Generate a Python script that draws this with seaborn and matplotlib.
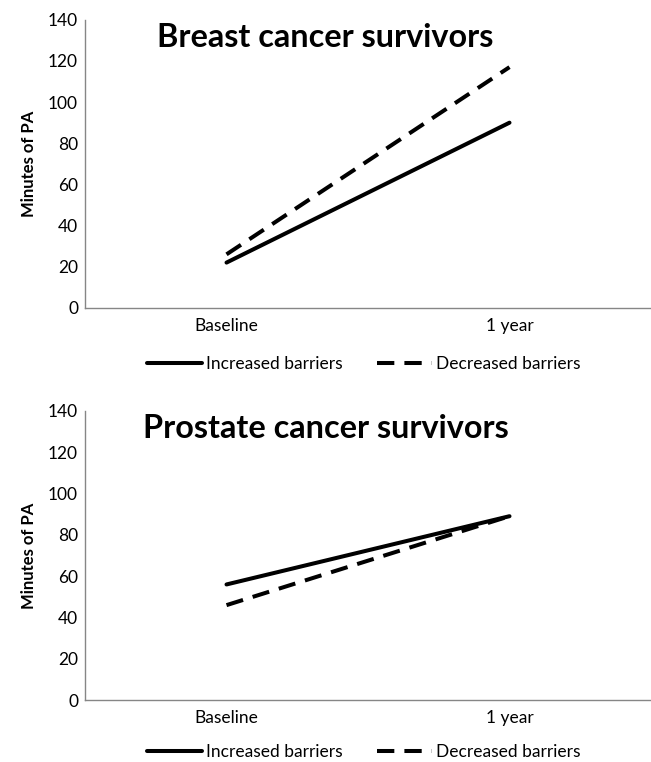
import matplotlib
matplotlib.use("Agg")
import matplotlib.pyplot as plt
import seaborn as sns
import pandas as pd

# values
timepoints = ["Baseline", "1 year"]
series_names = ["Increased barriers", "Decreased barriers"]
breast_increased = [22, 90]
breast_decreased = [26, 117]
prostate_increased = [56, 89]
prostate_decreased = [46, 89]
y_ticks = [0, 20, 40, 60, 80, 100, 120, 140]

sns.set_theme(style="white")
plt.rcParams["font.family"] = ["Lato", "DejaVu Sans"]
plt.rcParams["text.color"] = "black"


def make_frame(inc, dec):
    rows = []
    for name, vals in zip(series_names, [inc, dec]):
        for t, v in zip(timepoints, vals):
            rows.append({"time": t, "minutes": v, "group": name})
    return pd.DataFrame(rows)


panels = [
    ("Breast cancer survivors", make_frame(breast_increased, breast_decreased), 0.127, -0.196),
    ("Prostate cancer survivors", make_frame(prostate_increased, prostate_decreased), 0.102, -0.178),
]

fig = plt.figure(figsize=(6.51, 7.62), dpi=100)
positions = [[0.1306, 0.596, 0.8694, 0.378], [0.1306, 0.081, 0.8694, 0.380]]

for (title, df, tx, leg_y), pos in zip(panels, positions):
    ax = fig.add_axes(pos)
    sns.lineplot(data=df, x="time", y="minutes", style="group",
                 style_order=series_names,
                 dashes={"Increased barriers": "", "Decreased barriers": (4.3, 2.5)},
                 color="black", linewidth=2.9, ax=ax, legend=True)
    ax.set_xlim(-0.5, 1.5)
    ax.set_ylim(0, 140)
    ax.set_yticks(y_ticks)
    ax.tick_params(axis="both", length=0, labelsize=12.5, colors="black")
    ax.tick_params(axis="x", pad=7)
    ax.tick_params(axis="y", pad=5)
    ax.set_xlabel("")
    ax.set_ylabel("Minutes of PA", fontsize=12, fontweight="bold", labelpad=8,
                  color="black")
    for side in ["top", "right"]:
        ax.spines[side].set_visible(False)
    for side in ["left", "bottom"]:
        ax.spines[side].set_color("#868686")
        ax.spines[side].set_linewidth(1.0)
    ax.text(tx, 127, title, transform=ax.get_yaxis_transform(), fontsize=23.3,
            fontweight="bold", va="baseline", ha="left", color="black")
    ax.legend(loc="center", bbox_to_anchor=(0.492, leg_y), ncol=2,
              frameon=False, fontsize=12.5, handlelength=3.2,
              columnspacing=2.0, handletextpad=0.2)

fig.savefig("out.png", dpi=100)
